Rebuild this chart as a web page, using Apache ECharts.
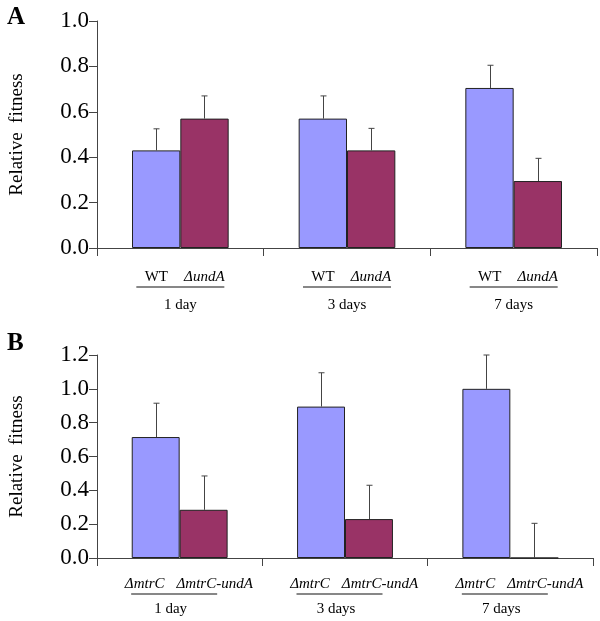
<!DOCTYPE html>
<html>
<head>
<meta charset="utf-8">
<script src="https://cdn.jsdelivr.net/npm/echarts@6/dist/echarts.min.js"></script>
<style>
  html, body { margin: 0; padding: 0; background: #fff; }
  #chart { width: 600px; height: 621px; }
</style>
</head>
<body>
<div id="chart"></div>
<script>
// time points, shared by both panels
var days = ['1 day', '3 days', '7 days'];

// panel A: WT vs undA
var groupA = ['WT', '\u0394undA'];
var fitA_WT = [0.43, 0.57, 0.705];
var fitA_undA = [0.57, 0.43, 0.295];
var errA_WT = [0.095, 0.10, 0.10];
var errA_undA = [0.10, 0.097, 0.10];
var ticksA = [0, 1, 0.2];

// panel B: mtrC vs mtrC-undA
var groupB = ['\u0394mtrC', '\u0394mtrC-undA'];
var fitB_mtrC = [0.715, 0.895, 1.0];
var fitB_mtrCundA = [0.285, 0.23, 0];
var errB_mtrC = [0.20, 0.20, 0.20];
var errB_mtrCundA = [0.20, 0.20, 0.205];
var ticksB = [0, 1.2, 0.2];

var serif = '"Liberation Serif", "Times New Roman", serif';
var axisColor = '#444';
var barFrac = 0.29;

function errData(vals, errs) {
    return vals.map(function (v, i) { return [i, v, errs[i]]; });
}

// error bar: upward line with a short cap, centred on its bar
function errRender(side) {
    return function (params, api) {
        var idx = api.value(0), v = api.value(1), e = api.value(2);
        var band = api.size([1, 0])[0];
        var dx = side * band * barFrac / 2;
        var p0 = api.coord([idx, v]);
        var p1 = api.coord([idx, v + e]);
        var x = Math.round(p0[0] + dx) + 0.5;
        var st = { stroke: axisColor, lineWidth: 1 };
        return {
            type: 'group',
            children: [
                { type: 'line', shape: { x1: x, y1: p0[1], x2: x, y2: p1[1] }, style: st },
                { type: 'line', shape: { x1: x - 3, y1: p1[1], x2: x + 3, y2: p1[1] }, style: st }
            ]
        };
    };
}

function yAxisOpt(gi, t) {
    return {
        gridIndex: gi,
        type: 'value',
        min: t[0], max: t[1], interval: t[2],
        name: 'Relative  fitness',
        nameLocation: 'middle',
        nameGap: 70,
        nameTextStyle: { fontFamily: serif, fontSize: 19, color: '#000' },
        splitLine: { show: false },
        axisLine: { show: true, lineStyle: { color: axisColor } },
        axisTick: { show: true, length: 8, lineStyle: { color: axisColor } },
        axisLabel: {
            fontFamily: serif, fontSize: 23, color: '#000', margin: 8,
            formatter: function (v) { return v.toFixed(1); }
        }
    };
}

function xAxisOpt(gi, group, firstItalic, w1, w2, lnW, lnPad, dPad, lh) {
    return {
        gridIndex: gi,
        type: 'category',
        data: days,
        axisLine: { lineStyle: { color: axisColor } },
        axisTick: { show: true, length: 8, lineStyle: { color: axisColor } },
        axisLabel: {
            interval: 0,
            hideOverlap: false,
            margin: lh[0],
            fontFamily: serif, fontSize: 15, color: '#000',
            formatter: function (v) {
                return '{g|' + group[0] + '}{gi|' + group[1] + '}\n' +
                    '{ln|}{sp|}\n' +
                    '{d|' + v + '}{sp2|}';
            },
            rich: {
                g: { width: w1, align: 'center', fontFamily: serif, fontSize: 15,
                     fontStyle: firstItalic ? 'italic' : 'normal', lineHeight: 18 },
                gi: { width: w2, align: 'center', fontFamily: serif, fontSize: 15, fontStyle: 'italic', lineHeight: 18 },
                ln: { width: lnW, height: 1, backgroundColor: '#111', lineHeight: 2 },
                sp: { width: lnPad, height: 1, lineHeight: 2 },
                d: { fontFamily: serif, fontSize: 15, lineHeight: lh[1] },
                sp2: { width: dPad, lineHeight: lh[1] }
            }
        }
    };
}

function barSeries(xi, vals, color) {
    return {
        type: 'bar',
        xAxisIndex: xi, yAxisIndex: xi,
        data: vals,
        barWidth: (barFrac * 100) + '%',
        barGap: '0%',
        itemStyle: { color: color, borderColor: '#222', borderWidth: 1 }
    };
}

function errSeries(xi, vals, errs, side) {
    return {
        type: 'custom',
        xAxisIndex: xi, yAxisIndex: xi,
        data: errData(vals, errs),
        encode: { x: 0, y: 1 },
        renderItem: errRender(side),
        clip: false,
        z: 3
    };
}

var chart = echarts.init(document.getElementById('chart'));
chart.setOption({
    animation: false,
    backgroundColor: '#fff',
    title: [
        { text: 'A', left: 2, top: 0, textStyle: { fontFamily: serif, fontSize: 25, fontWeight: 'bold', color: '#000' } },
        { text: 'B', left: 2, top: 326, textStyle: { fontFamily: serif, fontSize: 25, fontWeight: 'bold', color: '#000' } }
    ],
    grid: [
        { left: 91, right: 3, top: 21, bottom: 373 },
        { left: 91, right: 7, top: 355, bottom: 63 }
    ],
    xAxis: [
        xAxisOpt(0, groupA, false, 48, 48, 88, 0, 0, [20, 34]),
        xAxisOpt(1, groupB, true, 70, 70, 86, 11, 18, [17, 28])
    ],
    yAxis: [yAxisOpt(0, ticksA), yAxisOpt(1, ticksB)],
    series: [
        barSeries(0, fitA_WT, '#9999ff'),
        barSeries(0, fitA_undA, '#993366'),
        errSeries(0, fitA_WT, errA_WT, -1),
        errSeries(0, fitA_undA, errA_undA, 1),
        barSeries(1, fitB_mtrC, '#9999ff'),
        barSeries(1, fitB_mtrCundA, '#993366'),
        errSeries(1, fitB_mtrC, errB_mtrC, -1),
        errSeries(1, fitB_mtrCundA, errB_mtrCundA, 1)
    ]
});
</script>
</body>
</html>
